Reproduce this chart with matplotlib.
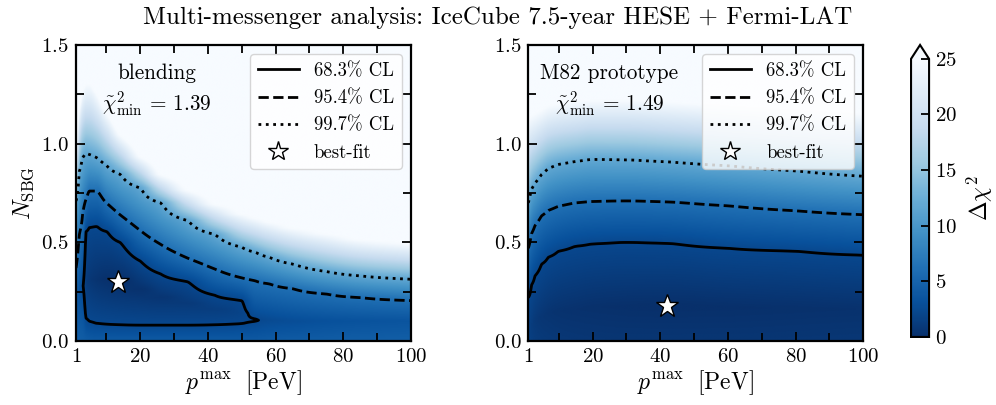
import numpy as np
import matplotlib
matplotlib.use("Agg")
import matplotlib.pyplot as plt
from matplotlib.lines import Line2D
from matplotlib.ticker import MultipleLocator, FixedLocator

plt.rcParams["font.family"] = "serif"
plt.rcParams["font.serif"] = ["cmr10"]
plt.rcParams["mathtext.fontset"] = "cm"
plt.rcParams["axes.formatter.use_mathtext"] = True
plt.rcParams["axes.unicode_minus"] = False

# Delta chi^2 thresholds for two fitted parameters
CL_LEVELS = [2.30, 6.18, 11.83]
CL_LABELS = ["68.3% CL", "95.4% CL", "99.7% CL"]
CL_STYLES = ["solid", "dashed", "dotted"]

# ---- blending scenario: profile of Delta chi^2 along N_SBG at each p_max ----
P_BLEND = [1, 2, 3, 4, 5, 7, 10, 14, 20, 26, 34, 42, 50, 54, 58, 65, 75, 85, 100]
CHI0_BLEND = [4.5, 4.4, 4.3, 4.2, 4.1, 4.0, 4.0, 4.0, 4.0, 4.0, 4.0, 4.0, 4.0, 4.0, 4.1, 4.2, 4.3, 4.4, 4.5]
NVAL_BLEND = [0.20, 0.24, 0.28, 0.30, 0.31, 0.31, 0.31, 0.30, 0.26, 0.22, 0.19, 0.16, 0.14, 0.106, 0.105, 0.10, 0.10, 0.10, 0.10]
CHIVAL_BLEND = [3.8, 3.2, 2.45, 1.1, 0.75, 0.4, 0.12, 0.0, 0.25, 0.55, 0.95, 1.35, 1.9, 2.25, 2.5, 2.8, 3.1, 3.3, 3.5]
N68LO_BLEND = [np.nan, np.nan, np.nan, 0.115, 0.10, 0.09, 0.085, 0.082, 0.080, 0.080, 0.080, 0.082, 0.088, 0.100,
               np.nan, np.nan, np.nan, np.nan, np.nan]
N68HI_BLEND = [np.nan, np.nan, np.nan, 0.555, 0.575, 0.58, 0.555, 0.50, 0.405, 0.34, 0.30, 0.232, 0.204, 0.112,
               np.nan, np.nan, np.nan, np.nan, np.nan]
N95_BLEND = [0.37, 0.54, 0.65, 0.72, 0.76, 0.76, 0.70, 0.64, 0.56, 0.49, 0.42, 0.365, 0.32, 0.305, 0.29, 0.265,
             0.238, 0.22, 0.205]
N997_BLEND = [0.71, 0.86, 0.93, 0.95, 0.945, 0.93, 0.89, 0.845, 0.775, 0.70, 0.61, 0.54, 0.475, 0.45, 0.425, 0.39,
              0.352, 0.33, 0.313]
N25_BLEND = [0.98, 1.18, 1.27, 1.30, 1.30, 1.25, 1.15, 1.04, 0.93, 0.84, 0.76, 0.69, 0.64, 0.62, 0.60, 0.57, 0.54,
             0.51, 0.49]
BEST_BLEND = (13.4, 0.30)
CHI2MIN_BLEND = 1.39

# ---- M82 prototype scenario ----
P_M82 = [1, 2, 3, 5, 7, 10, 15, 20, 30, 42, 60, 80, 100]
CHI0_M82 = [1.7, 1.4, 1.2, 1.0, 0.9, 0.8, 0.7, 0.65, 0.6, 0.6, 0.6, 0.65, 0.7]
NVAL_M82 = [0.05, 0.08, 0.10, 0.12, 0.14, 0.15, 0.16, 0.17, 0.175, 0.177, 0.17, 0.165, 0.16]
CHIVAL_M82 = [1.6, 1.2, 0.9, 0.6, 0.45, 0.3, 0.2, 0.12, 0.04, 0.0, 0.05, 0.12, 0.2]
N68LO_M82 = [np.nan] * 13
N68HI_M82 = [0.22, 0.285, 0.33, 0.39, 0.425, 0.455, 0.48, 0.492, 0.50, 0.495, 0.47, 0.455, 0.435]
N95_M82 = [0.47, 0.545, 0.585, 0.635, 0.662, 0.683, 0.70, 0.707, 0.71, 0.705, 0.685, 0.66, 0.64]
N997_M82 = [0.70, 0.77, 0.80, 0.845, 0.875, 0.895, 0.91, 0.92, 0.918, 0.908, 0.888, 0.862, 0.835]
N25_M82 = [1.12, 1.14, 1.15, 1.17, 1.19, 1.20, 1.21, 1.22, 1.22, 1.21, 1.19, 1.17, 1.15]
BEST_M82 = (41.9, 0.177)
CHI2MIN_M82 = 1.49

P_RANGE = (1, 100)
N_RANGE = (0.0, 1.5)
CHI_TOP = 45.0


def pchip_columns(x, Y, xq):
    """Monotone cubic (Fritsch-Carlson) interpolation of the rows of Y, sampled at x, onto xq."""
    x = np.asarray(x, float)
    h = np.diff(x)
    delta = np.diff(Y, axis=0) / h[:, None]
    d = np.zeros_like(Y)
    with np.errstate(divide="ignore", invalid="ignore"):
        for k in range(1, len(x) - 1):
            w1 = 2 * h[k] + h[k - 1]
            w2 = h[k] + 2 * h[k - 1]
            same = delta[k - 1] * delta[k] > 0
            hm = (w1 + w2) / (w1 / delta[k - 1] + w2 / delta[k])
            d[k] = np.where(same, hm, 0.0)
    d[0] = delta[0]
    d[-1] = delta[-1]
    idx = np.clip(np.searchsorted(x, xq) - 1, 0, len(x) - 2)
    t = ((xq - x[idx]) / h[idx])[:, None]
    hh = h[idx][:, None]
    h00 = 2 * t**3 - 3 * t**2 + 1
    h10 = t**3 - 2 * t**2 + t
    h01 = -2 * t**3 + 3 * t**2
    h11 = t**3 - t**2
    return h00 * Y[idx] + h10 * hh * d[idx] + h01 * Y[idx + 1] + h11 * hh * d[idx + 1]


def build_surface(p_cols, chi0, nval, chival, n68lo, n68hi, n95, n997, n25, p_axis, n_axis):
    """Delta chi^2 columns through the tabulated level crossings, joined smoothly across p."""
    cols = []
    for j in range(len(p_cols)):
        ns, vs = [0.0], [chi0[j]]
        if not np.isnan(n68lo[j]):
            ns.append(n68lo[j]); vs.append(CL_LEVELS[0])
        ns.append(nval[j]); vs.append(chival[j])
        if not np.isnan(n68hi[j]):
            ns.append(n68hi[j]); vs.append(CL_LEVELS[0])
        ns += [n95[j], n997[j], n25[j], N_RANGE[1]]
        vs += [CL_LEVELS[1], CL_LEVELS[2], 25.0, CHI_TOP]
        cols.append(np.interp(n_axis, ns, vs))
    cols = np.array(cols)
    return pchip_columns(p_cols, cols, p_axis).T


p_axis = np.linspace(*P_RANGE, 500)
n_axis = np.linspace(*N_RANGE, 500)
PP, NN = np.meshgrid(p_axis, n_axis)

panels = [
    dict(name="blending", chi2min=CHI2MIN_BLEND, best=BEST_BLEND,
         surf=build_surface(P_BLEND, CHI0_BLEND, NVAL_BLEND, CHIVAL_BLEND, N68LO_BLEND, N68HI_BLEND,
                            N95_BLEND, N997_BLEND, N25_BLEND, p_axis, n_axis)),
    dict(name="M82 prototype", chi2min=CHI2MIN_M82, best=BEST_M82,
         surf=build_surface(P_M82, CHI0_M82, NVAL_M82, CHIVAL_M82, N68LO_M82, N68HI_M82,
                            N95_M82, N997_M82, N25_M82, p_axis, n_axis)),
]

fig = plt.figure(figsize=(9.96, 4.05), dpi=100)
ax_rects = [[0.0763, 0.158, 0.3363, 0.7309], [0.5304, 0.158, 0.3363, 0.7309]]
cax = fig.add_axes([0.9147, 0.168, 0.0181, 0.721])

tick_fs = 15
for rect, panel in zip(ax_rects, panels):
    ax = fig.add_axes(rect)
    im = ax.imshow(panel["surf"], origin="lower", extent=[*P_RANGE, *N_RANGE], aspect="auto",
                   cmap="Blues_r", vmin=0, vmax=25, interpolation="bilinear")
    ax.contour(PP, NN, panel["surf"], levels=CL_LEVELS, colors="k",
               linestyles=CL_STYLES, linewidths=2.0)
    ax.plot(*panel["best"], ls="none", marker="*", ms=17, mfc="white", mec="k", mew=1.0, zorder=5)

    ax.set_xlim(*P_RANGE)
    ax.set_ylim(*N_RANGE)
    ax.xaxis.set_major_locator(FixedLocator([1, 20, 40, 60, 80, 100]))
    ax.xaxis.set_minor_locator(FixedLocator([10, 30, 50, 70, 90]))
    ax.yaxis.set_major_locator(MultipleLocator(0.5))
    ax.yaxis.set_minor_locator(MultipleLocator(0.25))
    ax.tick_params(which="both", direction="in", top=True, right=True, width=1.3, labelsize=tick_fs)
    ax.tick_params(which="major", length=6.5, pad=5)
    ax.tick_params(which="minor", length=5.5)
    for s in ax.spines.values():
        s.set_linewidth(1.6)

    ax.set_xlabel(r"$p^{\rm max}\ \ [{\rm PeV}]$", fontsize=17, labelpad=2)
    if panel is panels[0]:
        ax.set_ylabel(r"$N_{\rm SBG}$", fontsize=17, labelpad=4)

    ax.text(0.242, 0.905, panel["name"], transform=ax.transAxes, ha="center", va="center", fontsize=15.3)
    ax.text(0.242, 0.80, r"$\tilde{\chi}^2_{\rm min}\, =\, %.2f$" % panel["chi2min"], transform=ax.transAxes,
            ha="center", va="center", fontsize=15.3)

    handles = [Line2D([], [], color="k", ls=st, lw=2.0) for st in CL_STYLES]
    handles.append(Line2D([], [], ls="none", marker="*", ms=15, mfc="white", mec="k", mew=1.0))
    ax.legend(handles, CL_LABELS + ["best-fit"], loc="upper right", fontsize=13.5,
              handlelength=2.2, framealpha=0.8)

cb = fig.colorbar(im, cax=cax, extend="max")
cb.set_ticks([0, 5, 10, 15, 20, 25])
cb.ax.tick_params(direction="in", length=6, width=1.3, labelsize=tick_fs, pad=4)
cb.outline.set_linewidth(1.5)
cb.set_label(r"$\Delta\chi^2$", fontsize=17, labelpad=6)

fig.suptitle("Multi-messenger analysis: IceCube 7.5-year HESE + Fermi-LAT", fontsize=18, y=0.985)

fig.savefig("out.png", dpi=100)
